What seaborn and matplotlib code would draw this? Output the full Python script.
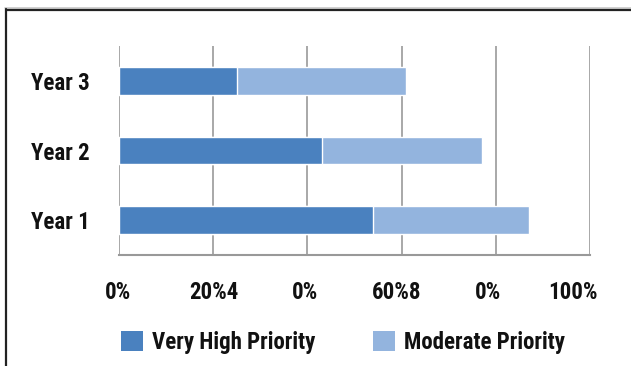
import matplotlib
matplotlib.use("Agg")
import matplotlib.pyplot as plt
import matplotlib.transforms as mtransforms
import seaborn as sns
import pandas as pd
from matplotlib.patches import Patch
from matplotlib.lines import Line2D

# Share of respondents by priority level, per year
years = ["Year 3", "Year 2", "Year 1"]
very_high = [0.25, 0.43, 0.54]
moderate = [0.36, 0.34, 0.33]
tick_values = [0.0, 0.2, 0.4, 0.6, 0.8, 1.0]
tick_labels = ["0%", "20%4", "0%", "60%8", "0%", "100%"]
series_names = ["Very High Priority", "Moderate Priority"]

# horizontal nudges (pixels) for the x tick labels
tick_label_shift = [-1, 1, -2, -5, -8, -17]

dark_blue = "#4A81BF"
light_blue = "#93B4DE"
grid_grey = "#999999"
text_color = "#111111"
FS = 16.5

sns.set_theme(style="white")
plt.rcParams["font.family"] = ["Roboto Condensed", "Archivo Narrow", "Liberation Sans", "DejaVu Sans"]
plt.rcParams["font.weight"] = "bold"

df = pd.DataFrame({"year": years, "very_high": very_high, "moderate": moderate})
df["total"] = df["very_high"] + df["moderate"]

fig = plt.figure(figsize=(6.31, 3.66), dpi=100)
ax = fig.add_axes([119 / 631, 1 - 255 / 366, (590 - 119) / 631, (255 - 46) / 366])

# Stacked bars: full length in light blue, very-high share on top in dark blue
sns.barplot(data=df, x="total", y="year", order=years, orient="h",
            color=light_blue, saturation=1, width=0.4, ax=ax, zorder=3)
sns.barplot(data=df, x="very_high", y="year", order=years, orient="h",
            color=dark_blue, saturation=1, width=0.4, ax=ax, zorder=4)

ax.set_xlim(0, 1)
ax.set_ylim(2.5, -0.5)
ax.set_xticks(tick_values)
ax.set_xticklabels(tick_labels, fontsize=FS, fontweight="bold", color=text_color)
ax.set_xlabel("")
ax.set_ylabel("")
for lab in ax.get_yticklabels():
    lab.set_fontsize(FS)
    lab.set_fontweight("bold")
    lab.set_color(text_color)
ax.tick_params(axis="x", length=0, pad=19)
ax.tick_params(axis="y", length=0, pad=21)

for lab, dx in zip(ax.get_xticklabels(), tick_label_shift):
    lab.set_transform(lab.get_transform() +
                      mtransforms.ScaledTranslation(dx / 100, 0, fig.dpi_scale_trans))

ax.grid(axis="x", color=grid_grey, linewidth=1.2, zorder=1)
ax.grid(axis="y", visible=False)
ax.set_axisbelow(True)
for side in ["top", "right", "left"]:
    ax.spines[side].set_visible(False)
ax.spines["bottom"].set_color(grid_grey)
ax.spines["bottom"].set_linewidth(1.5)

# Legend with square swatches
handles = [Patch(facecolor=dark_blue, edgecolor="none"),
           Patch(facecolor=light_blue, edgecolor="none")]
fig.legend(handles, series_names, loc="center", bbox_to_anchor=(343 / 631, 1 - 342 / 366),
           ncol=2, frameon=False, handlelength=0.96, handleheight=0.96,
           handletextpad=0.4, columnspacing=2.5,
           prop={"size": FS, "weight": "bold"}, labelcolor=text_color)

# Outer frame lines along top and left edges
W, H = 631, 366
fig.add_artist(Line2D([5 / W, 1], [1 - 7.5 / H, 1 - 7.5 / H], transform=fig.transFigure,
                      color="#c8c8c8", linewidth=1.2))
fig.add_artist(Line2D([5.5 / W, 1], [1 - 9.8 / H, 1 - 9.8 / H], transform=fig.transFigure,
                      color="#222222", linewidth=1.6))
fig.add_artist(Line2D([5.8 / W, 5.8 / W], [0, 1 - 9.0 / H], transform=fig.transFigure,
                      color="#222222", linewidth=1.6))

fig.savefig("out.png", dpi=100)
